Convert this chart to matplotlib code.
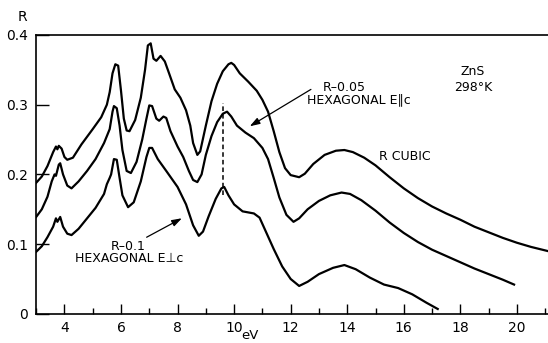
import matplotlib.pyplot as plt
from matplotlib.ticker import MultipleLocator

# reflectance data (eV, R)
cubic_ev = [3.0, 3.2, 3.4, 3.6, 3.7, 3.75, 3.8, 3.9, 4.0, 4.1, 4.3, 4.6, 5.0, 5.3, 5.5, 5.6, 5.7, 5.8, 5.9,
            6.0, 6.1, 6.2, 6.3, 6.5, 6.7, 6.85, 6.95, 7.05, 7.15, 7.25, 7.4, 7.55, 7.7, 7.9, 8.1, 8.3, 8.45,
            8.55, 8.7, 8.8, 9.0, 9.2, 9.4, 9.6, 9.8, 9.9, 10.0, 10.2, 10.5, 10.8, 11.0, 11.2, 11.4, 11.6,
            11.8, 12.0, 12.3, 12.5, 12.8, 13.2, 13.6, 13.9, 14.2, 14.6, 15.0, 15.5, 16.0, 16.5, 17.0, 17.5,
            18.0, 18.5, 19.0, 19.5, 20.0, 20.5, 21.1]
cubic_r = [0.188, 0.197, 0.212, 0.232, 0.240, 0.236, 0.241, 0.237, 0.225, 0.221, 0.224, 0.243, 0.265, 0.282,
           0.300, 0.318, 0.345, 0.358, 0.356, 0.320, 0.280, 0.263, 0.262, 0.278, 0.310, 0.350, 0.385, 0.388,
           0.366, 0.363, 0.370, 0.362, 0.345, 0.322, 0.310, 0.292, 0.270, 0.245, 0.228, 0.233, 0.270, 0.305,
           0.330, 0.348, 0.358, 0.360, 0.357, 0.345, 0.333, 0.320, 0.307, 0.290, 0.262, 0.232, 0.209, 0.199,
           0.196, 0.201, 0.215, 0.228, 0.234, 0.235, 0.232, 0.224, 0.213, 0.196, 0.180, 0.166, 0.154, 0.144,
           0.135, 0.125, 0.117, 0.109, 0.102, 0.096, 0.090]

par_ev = [3.0, 3.2, 3.4, 3.55, 3.65, 3.7, 3.8, 3.85, 3.95, 4.1, 4.25, 4.5, 4.8, 5.1, 5.4, 5.6, 5.7, 5.75,
          5.85, 5.95, 6.05, 6.2, 6.35, 6.55, 6.75, 6.9, 7.0, 7.1, 7.25, 7.35, 7.5, 7.6, 7.75, 8.0, 8.2, 8.4,
          8.55, 8.7, 8.85, 9.0, 9.2, 9.4, 9.6, 9.75, 9.9, 10.1, 10.4, 10.7, 11.0, 11.2, 11.4, 11.6, 11.85,
          12.1, 12.3, 12.6, 13.0, 13.4, 13.8, 14.1, 14.5, 15.0, 15.5, 16.0, 16.5, 17.0, 17.5, 18.0, 18.5,
          19.0, 19.5, 19.9]
par_r = [0.139, 0.150, 0.168, 0.190, 0.200, 0.198, 0.214, 0.216, 0.200, 0.184, 0.180, 0.190, 0.205, 0.222,
         0.245, 0.265, 0.290, 0.298, 0.295, 0.270, 0.235, 0.205, 0.202, 0.218, 0.250, 0.280, 0.299, 0.298,
         0.280, 0.277, 0.283, 0.281, 0.262, 0.240, 0.225, 0.205, 0.192, 0.189, 0.200, 0.228, 0.255, 0.275,
         0.287, 0.290, 0.283, 0.270, 0.260, 0.252, 0.238, 0.222, 0.195, 0.167, 0.142, 0.132, 0.137, 0.150,
         0.162, 0.170, 0.174, 0.172, 0.163, 0.148, 0.131, 0.116, 0.103, 0.092, 0.083, 0.074, 0.065, 0.057,
         0.049, 0.042]

perp_ev = [3.0, 3.2, 3.4, 3.6, 3.7, 3.75, 3.85, 3.95, 4.1, 4.25, 4.5, 4.8, 5.1, 5.4, 5.5, 5.6, 5.65, 5.75,
           5.85, 5.95, 6.05, 6.25, 6.45, 6.7, 6.9, 7.0, 7.1, 7.3, 7.6, 8.0, 8.3, 8.55, 8.75, 8.9, 9.1, 9.35,
           9.55, 9.65, 9.8, 10.0, 10.3, 10.7, 10.9, 11.1, 11.4, 11.7, 12.0, 12.3, 12.6, 13.0, 13.5, 13.9,
           14.3, 14.8, 15.3, 15.8, 16.3, 16.8, 17.2]
perp_r = [0.089, 0.097, 0.110, 0.125, 0.137, 0.132, 0.139, 0.125, 0.115, 0.113, 0.122, 0.137, 0.152, 0.172,
          0.186, 0.195, 0.200, 0.222, 0.221, 0.195, 0.170, 0.153, 0.160, 0.190, 0.225, 0.238, 0.238, 0.222,
          0.205, 0.182, 0.157, 0.127, 0.112, 0.118, 0.140, 0.165, 0.180, 0.182, 0.170, 0.157, 0.147, 0.144,
          0.138, 0.120, 0.093, 0.068, 0.050, 0.040, 0.046, 0.057, 0.066, 0.070, 0.064, 0.052, 0.042, 0.037,
          0.028, 0.016, 0.007]

x_ticks = [4, 6, 8, 10, 12, 14, 16, 18, 20]
y_ticks = [0, 0.1, 0.2, 0.3, 0.4]
y_labels = ['0', '0.1', '0.2', '0.3', '0.4']

fig = plt.figure(figsize=(5.48, 3.43), dpi=100)
ax = fig.add_axes([0.066, 0.085, 0.934, 0.813])

for ev, r in [(cubic_ev, cubic_r), (par_ev, par_r), (perp_ev, perp_r)]:
    ax.plot(ev, r, color='black', lw=1.6, solid_joinstyle='round')

# dashed marker line at 9.6 eV
ax.plot([9.6, 9.6], [0.17, 0.302], color='black', lw=1.1, ls=(0, (3, 2)))

ax.set_xlim(3, 21.1)
ax.set_ylim(0, 0.4)
ax.set_xticks(x_ticks)
ax.xaxis.set_minor_locator(MultipleLocator(1))
ax.set_yticks(y_ticks)
ax.set_yticklabels(y_labels)
ax.tick_params(axis='x', which='major', direction='in', length=7, width=1, labelsize=10, pad=5)
ax.tick_params(axis='x', which='minor', direction='in', length=4, width=1)
ax.tick_params(axis='y', direction='in', length=9, width=1, labelsize=10, pad=6)
ax.spines['right'].set_visible(False)
for s in ['left', 'top', 'bottom']:
    ax.spines[s].set_linewidth(1.2)

fig.text(22 / 548, 1 - 17 / 343, 'R', fontsize=10, ha='center', va='center')
fig.text(250 / 548, 1 / 343, 'eV', fontsize=9.5, ha='center', va='bottom')

ax.text(18.43, 0.347, 'ZnS', fontsize=9, ha='center', va='center')
ax.text(18.45, 0.325, '298°K', fontsize=9, ha='center', va='center')
ax.text(16.03, 0.225, 'R CUBIC', fontsize=9, ha='center', va='center')

ax.text(13.9, 0.324, 'R\u20130.05', fontsize=9, ha='center', va='center')
ax.text(14.4, 0.307, 'HEXAGONAL E\u2225c', fontsize=9, ha='center', va='center')
ax.annotate('', xy=(10.47, 0.267), xytext=(12.8, 0.324),
            arrowprops=dict(arrowstyle='-|>,head_length=0.6,head_width=0.2', color='black', lw=0.9,
                            mutation_scale=10))

ax.text(6.26, 0.096, 'R\u20130.1', fontsize=9, ha='center', va='center')
ax.text(6.3, 0.079, 'HEXAGONAL E\u22a5c', fontsize=9, ha='center', va='center')
ax.annotate('', xy=(8.24, 0.139), xytext=(6.82, 0.108),
            arrowprops=dict(arrowstyle='-|>,head_length=0.6,head_width=0.2', color='black', lw=0.9,
                            mutation_scale=10))

plt.savefig('out.png', dpi=100)
